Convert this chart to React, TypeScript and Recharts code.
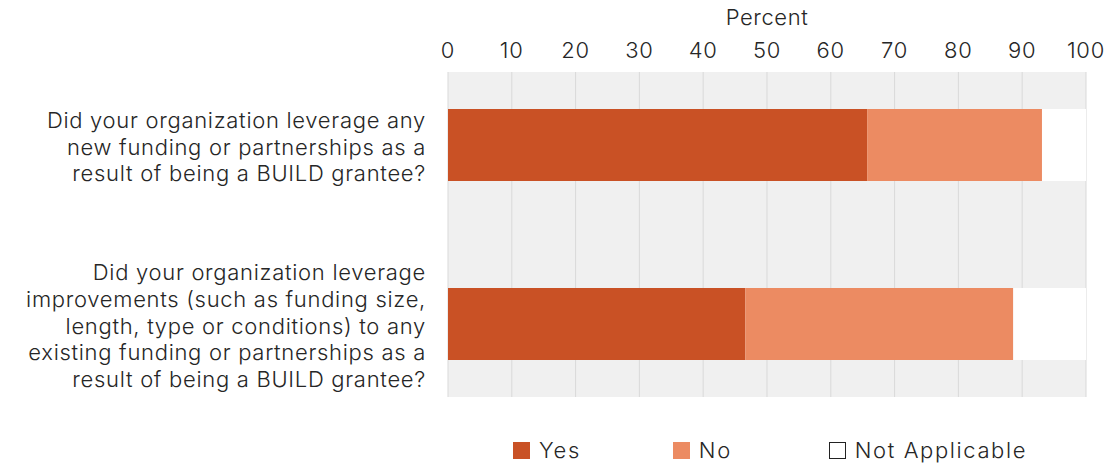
import React from 'react';
import { BarChart, Bar, XAxis, YAxis, CartesianGrid } from 'recharts';

const categories = [
  'Did your organization leverage any new funding or partnerships as a result of being a BUILD grantee?',
  'Did your organization leverage improvements (such as funding size, length, type or conditions) to any existing funding or partnerships as a result of being a BUILD grantee?',
];
const categoryLines = [
  ['Did your organization leverage any', 'new funding or partnerships as a', 'result of being a BUILD grantee?'],
  ['Did your organization leverage', 'improvements (such as funding size,', 'length, type or conditions) to any', 'existing funding or partnerships as a', 'result of being a BUILD grantee?'],
];
const yesValues = [65.7, 46.6];
const noValues = [27.4, 42.0];
const naValues = [6.9, 11.4];
const xTicks = [0, 10, 20, 30, 40, 50, 60, 70, 80, 90, 100];
const seriesNames = ['Yes', 'No', 'Not Applicable'];

const data = categories.map((c, i) => ({
  name: c,
  yes: yesValues[i],
  no: noValues[i],
  na: naValues[i],
}));

const FONT = 'Inter, "Open Sans", sans-serif';
const TEXT = '#262626';
const YES = '#C95125';
const NO = '#EC8B62';

const YTick = (props: any) => {
  const { x, y, payload } = props;
  const lines = categoryLines[payload.index] || [];
  const lh = 26.6;
  const start = -((lines.length - 1) * lh) / 2 + 10;
  return (
    <text x={x} y={y} textAnchor="end" fill={TEXT} fontFamily={FONT} fontWeight={300} fontSize={22} letterSpacing={0.7}>
      {lines.map((l, i) => (
        <tspan key={i} x={x} dy={i === 0 ? start : lh}>{l}</tspan>
      ))}
    </text>
  );
};

const LegendBox = () => {
  const colors = [YES, NO, '#FFFFFF'];
  return (
    <div style={{ position: 'absolute', left: 448, top: 436, width: 644, display: 'flex', justifyContent: 'center', fontFamily: FONT, fontWeight: 300, fontSize: 22, letterSpacing: 1.6, color: TEXT, lineHeight: '28px' }}>
      {seriesNames.map((n, i) => (
        <div key={n} style={{ display: 'flex', alignItems: 'center', marginRight: i === 0 ? 92 : i === 1 ? 97 : 0 }}>
          <span style={{ display: 'inline-block', width: 17, height: 17, background: colors[i], border: i === 2 ? '1px solid #222' : 'none', boxSizing: 'border-box', marginRight: 9 }} />
          <span>{n}</span>
        </div>
      ))}
    </div>
  );
};

export default function App() {
  return (
    <div style={{ position: 'absolute', left: 0, top: 0, width: 1113, height: 465, background: '#fff' }}>
      <BarChart
        width={1113}
        height={465}
        data={data}
        layout="vertical"
        margin={{ top: 0, right: 27, bottom: 68, left: 0 }}
        barSize={72}
      >
        <CartesianGrid horizontal={false} stroke="#D9D9D9" fill="#F0F0F0" />
        <XAxis
          type="number"
          orientation="top"
          domain={[0, 100]}
          ticks={xTicks}
          height={72}
          axisLine={false}
          tickLine={false}
          tickSize={0}
          tickMargin={14}
          tick={{ fill: TEXT, fontFamily: FONT, fontWeight: 300, fontSize: 22, letterSpacing: 0.8 }}
          label={{ value: 'Percent', position: 'insideTop', offset: 9, fill: TEXT, fontFamily: FONT, fontWeight: 300, fontSize: 22, letterSpacing: 0.6 }}
        />
        <YAxis
          type="category"
          dataKey="name"
          width={448}
          axisLine={false}
          tickLine={false}
          tickSize={0}
          tickMargin={22}
          padding={{ top: -17, bottom: -16 }}
          tick={<YTick />}
          interval={0}
        />
        <Bar dataKey="yes" stackId="a" fill={YES} isAnimationActive={false} name="Yes" />
        <Bar dataKey="no" stackId="a" fill={NO} isAnimationActive={false} name="No" />
        <Bar dataKey="na" stackId="a" fill="#FFFFFF" isAnimationActive={false} name="Not Applicable" />
      </BarChart>
      <LegendBox />
    </div>
  );
}
